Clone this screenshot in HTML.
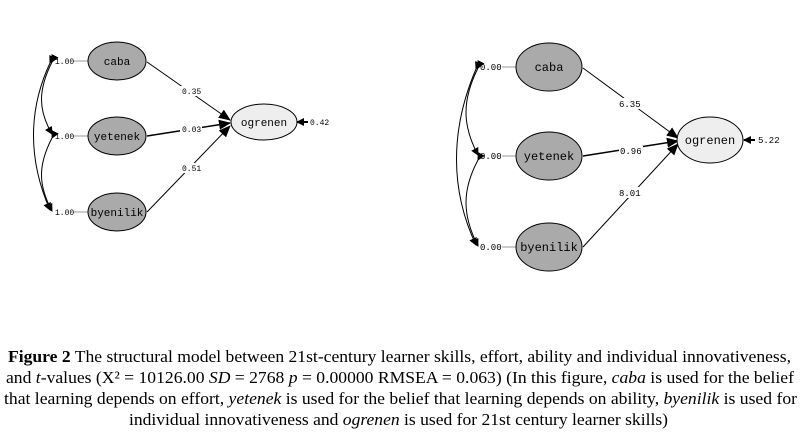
<!DOCTYPE html>
<html><head><meta charset="utf-8"><style>
html,body{margin:0;padding:0;background:#fff;}
svg{display:block;}
.m{font-family:"Liberation Mono",monospace;}
.c{font-family:"Liberation Serif",serif;font-size:16.5px;fill:#000;}
</style></head><body>
<svg width="807" height="447" viewBox="0 0 807 447" xmlns="http://www.w3.org/2000/svg">
<defs>
<marker id="a" markerWidth="8" markerHeight="8" refX="7" refY="4" orient="auto" markerUnits="userSpaceOnUse"><path d="M0,0 L8,4 L0,8 z" fill="#000"/></marker>
<marker id="b" markerWidth="12" markerHeight="10" refX="11" refY="5" orient="auto" markerUnits="userSpaceOnUse"><path d="M0,0 L12,5 L0,10 z" fill="#000"/></marker>
</defs>
<!-- LEFT -->
<g stroke="#000" fill="none" stroke-width="1">
<path d="M52,62 C38,90 38,110 52,134" marker-start="url(#a)" marker-end="url(#a)"/>
<path d="M52,138 C38,165 38,185 52,211" marker-start="url(#a)" marker-end="url(#a)"/>
<path d="M50,63 C28,110 28,160 50,210" marker-start="url(#a)" marker-end="url(#a)"/>
<line x1="147" y1="62" x2="230" y2="120" marker-end="url(#b)"/>
<line x1="147" y1="136" x2="230" y2="123" marker-end="url(#b)" stroke-width="1.5"/>
<line x1="147" y1="212" x2="230" y2="126" marker-end="url(#b)"/>
<line x1="308" y1="122" x2="297" y2="122" marker-end="url(#a)" stroke-width="2"/>
</g>
<g stroke="#999"><line x1="73" y1="61" x2="88" y2="61"/><line x1="73" y1="136" x2="88" y2="136"/><line x1="73" y1="212" x2="88" y2="212"/></g>
<g stroke="#000" stroke-width="1">
<ellipse cx="117" cy="61" rx="29" ry="19" fill="#aaa"/>
<ellipse cx="117" cy="136" rx="29" ry="19" fill="#aaa"/>
<ellipse cx="117" cy="212" rx="29" ry="19" fill="#aaa"/>
<ellipse cx="264" cy="122" rx="33" ry="18" fill="#eee"/>
</g>
<g class="m" font-size="11" text-anchor="middle">
<text x="117" y="65">caba</text><text x="117" y="140">yetenek</text><text x="117" y="216">byenilik</text><text x="264" y="126">ogrenen</text>
</g>
<g class="m" font-size="8">
<rect x="180" y="86" width="22" height="10" fill="#fff"/><text x="182" y="94">0.35</text>
<rect x="180" y="124" width="22" height="10" fill="#fff"/><text x="182" y="132">0.03</text>
<rect x="180" y="163" width="22" height="10" fill="#fff"/><text x="182" y="171">0.51</text>
<text x="55" y="64">1.00</text><text x="55" y="139">1.00</text><text x="55" y="215">1.00</text>
<text x="310" y="125">0.42</text>
</g>
<!-- RIGHT -->
<g stroke="#000" fill="none" stroke-width="1">
<path d="M478,68 C462,100 462,125 478,155" marker-start="url(#a)" marker-end="url(#a)"/>
<path d="M478,160 C462,190 462,215 478,246" marker-start="url(#a)" marker-end="url(#a)"/>
<path d="M476,69 C450,130 450,190 476,245" marker-start="url(#a)" marker-end="url(#a)"/>
<line x1="583" y1="68" x2="678" y2="138" marker-end="url(#b)"/>
<line x1="583" y1="156" x2="678" y2="141" marker-end="url(#b)" stroke-width="1.5"/>
<line x1="583" y1="247" x2="678" y2="144" marker-end="url(#b)"/>
<line x1="755" y1="140" x2="744" y2="140" marker-end="url(#a)" stroke-width="2"/>
</g>
<g stroke="#999"><line x1="502" y1="67" x2="516" y2="67"/><line x1="502" y1="156" x2="516" y2="156"/><line x1="502" y1="247" x2="516" y2="247"/></g>
<g stroke="#000" stroke-width="1">
<ellipse cx="549" cy="67" rx="33" ry="24" fill="#aaa"/>
<ellipse cx="549" cy="156" rx="33" ry="24" fill="#aaa"/>
<ellipse cx="549" cy="247" rx="33" ry="24" fill="#aaa"/>
<ellipse cx="710" cy="140" rx="33" ry="23" fill="#eee"/>
</g>
<g class="m" font-size="12" text-anchor="middle">
<text x="549" y="71">caba</text><text x="549" y="160">yetenek</text><text x="549" y="251">byenilik</text><text x="710" y="144">ogrenen</text>
</g>
<g class="m" font-size="9">
<rect x="618" y="98" width="24" height="11" fill="#fff"/><text x="619" y="107">6.35</text>
<rect x="619" y="146" width="24" height="11" fill="#fff"/><text x="620" y="154">0.96</text>
<rect x="618" y="187" width="24" height="11" fill="#fff"/><text x="619" y="196">8.01</text>
<text x="480" y="70">0.00</text><text x="480" y="159">0.00</text><text x="480" y="250">0.00</text>
<text x="758" y="143">5.22</text>
</g>
<!-- CAPTION -->
<text class="c" x="8" y="362" textLength="783" lengthAdjust="spacingAndGlyphs"><tspan font-weight="bold">Figure 2</tspan> The structural model between 21st-century learner skills, effort, ability and individual innovativeness,</text>
<text class="c" x="6" y="383" textLength="788" lengthAdjust="spacingAndGlyphs">and <tspan font-style="italic">t</tspan>-values (X² = 10126.00 <tspan font-style="italic">SD</tspan> = 2768 <tspan font-style="italic">p</tspan> = 0.00000 RMSEA = 0.063) (In this figure, <tspan font-style="italic">caba</tspan> is used for the belief</text>
<text class="c" x="4" y="404" textLength="793" lengthAdjust="spacingAndGlyphs">that learning depends on effort, <tspan font-style="italic">yetenek</tspan> is used for the belief that learning depends on ability, <tspan font-style="italic">byenilik</tspan> is used for</text>
<text class="c" x="129" y="425" textLength="539" lengthAdjust="spacingAndGlyphs">individual innovativeness and <tspan font-style="italic">ogrenen</tspan> is used for 21st century learner skills)</text>
</svg>
</body></html>
